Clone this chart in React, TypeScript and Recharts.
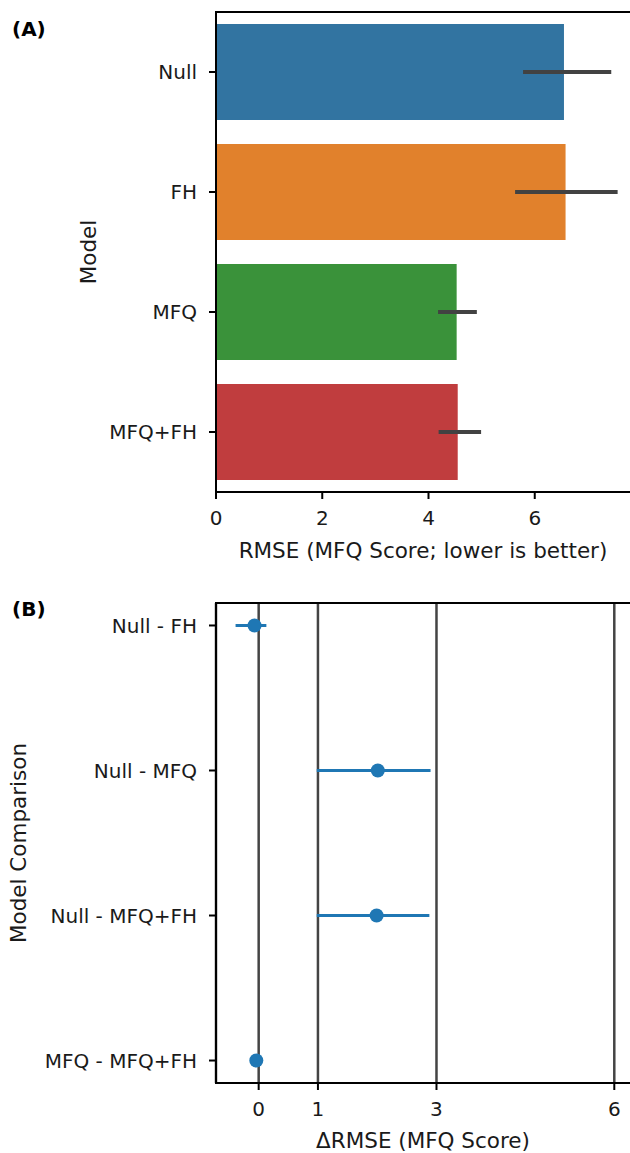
import { BarChart, Bar, XAxis, YAxis, ErrorBar, Cell, ScatterChart, Scatter, CartesianGrid, ReferenceArea } from "recharts";

const models = ["Null", "FH", "MFQ", "MFQ+FH"];
const rmse = [6.55, 6.58, 4.53, 4.55];
const rmseLow = [5.78, 5.63, 4.18, 4.19];
const rmseHigh = [7.44, 7.56, 4.91, 4.99];
const barColors = ["#3274a1", "#e1812c", "#3a923a", "#c03d3e"];
const rmseTicks = [0, 2, 4, 6];

const comparisons = ["Null - FH", "Null - MFQ", "Null - MFQ+FH", "MFQ - MFQ+FH"];
const delta = [-0.07, 2.01, 1.99, -0.04];
const deltaLow = [-0.39, 0.98, 0.98, -0.06];
const deltaHigh = [0.13, 2.9, 2.88, -0.02];
const deltaTicks = [0, 1, 3, 6];

const font = "'DejaVu Sans', sans-serif";
const tickStyle = { fontSize: 20, fill: "#1a1a1a", fontFamily: font };
const axisLine = { stroke: "#000", strokeWidth: 2 };
const tickLine = { stroke: "#000", strokeWidth: 2 };

const barData = models.map((m, i) => ({
  name: m,
  rmse: rmse[i],
  err: [rmse[i] - rmseLow[i], rmseHigh[i] - rmse[i]],
}));

const pointData = comparisons.map((c, i) => ({
  idx: i,
  delta: delta[i],
  err: [delta[i] - deltaLow[i], deltaHigh[i] - delta[i]],
}));

function yLabel(text: string, dx: number) {
  return (props: any) => {
    const vb = props.viewBox;
    const cx = vb.x + dx;
    const cy = vb.y + vb.height / 2;
    return (
      <text x={cx} y={cy} transform={`rotate(-90, ${cx}, ${cy})`} textAnchor="middle" dominantBaseline="central"
        style={{ fontSize: 21.5, fontFamily: font, fill: "#1a1a1a" }}>
        {text}
      </text>
    );
  };
}

function xLabel(text: string, dy: number) {
  return (props: any) => {
    const vb = props.viewBox;
    return (
      <text x={423} y={vb.y + dy} textAnchor="middle" style={{ fontSize: 21.5, fontFamily: font, fill: "#1a1a1a" }}>
        {text}
      </text>
    );
  };
}

export default function App() {
  return (
    <div style={{ position: "absolute", left: 0, top: 0, width: 630, height: 1153, overflow: "hidden", background: "#fff" }}>
      <div style={{ position: "absolute", left: 12, top: 17, fontFamily: font, fontWeight: "bold", fontSize: 20 }}>(A)</div>
      <div style={{ position: "absolute", left: 12, top: 597, fontFamily: font, fontWeight: "bold", fontSize: 20 }}>(B)</div>

      <div style={{ position: "absolute", left: 0, top: 0 }}>
        <BarChart width={660} height={580} data={barData} layout="vertical" barCategoryGap="10%"
          margin={{ top: 12, right: 19, left: 0, bottom: 20 }}>
          <XAxis type="number" domain={[0, 8]} ticks={rmseTicks} tick={tickStyle} axisLine={axisLine} tickLine={tickLine}
            tickSize={7} tickMargin={12} height={68} label={xLabel("RMSE (MFQ Score; lower is better)", 66)} />
          <YAxis type="category" dataKey="name" width={216} tick={tickStyle} axisLine={axisLine} tickLine={tickLine}
            tickSize={7} tickMargin={12} label={yLabel("Model", 88)} />
          <ReferenceArea x1={0} x2={8} fill="none" stroke="#000" strokeWidth={2} fillOpacity={0} />
          <Bar dataKey="rmse" isAnimationActive={false}>
            {barData.map((d, i) => (
              <Cell key={d.name} fill={barColors[i]} />
            ))}
            <ErrorBar dataKey="err" direction="x" width={0} stroke="#424242" strokeWidth={4} />
          </Bar>
        </BarChart>
      </div>

      <div style={{ position: "absolute", left: 0, top: 580 }}>
        <ScatterChart width={660} height={573} margin={{ top: 23, right: 22, left: 0, bottom: 2 }}>
          <CartesianGrid horizontal={false} stroke="#444" strokeWidth={2.5} strokeOpacity={1} />
          <ReferenceArea x1={-0.72} x2={6.4} fill="none" stroke="#000" strokeWidth={2} fillOpacity={0} />
          <XAxis type="number" dataKey="delta" domain={[-0.72, 6.4]} ticks={deltaTicks} tick={tickStyle} axisLine={axisLine}
            tickLine={tickLine} tickSize={7} tickMargin={12} height={68} allowDataOverflow
            label={xLabel("\u0394RMSE (MFQ Score)", 65)} />
          <YAxis type="number" dataKey="idx" reversed domain={[-0.155, 3.155]} ticks={[0, 1, 2, 3]} width={216}
            tickFormatter={(v: number) => comparisons[v]} tick={tickStyle} axisLine={axisLine} tickLine={tickLine}
            tickSize={7} tickMargin={12} allowDataOverflow label={yLabel("Model Comparison", 18)} />
          <Scatter data={pointData} fill="#1f77b4" isAnimationActive={false}
            shape={(p: any) => <circle cx={p.cx} cy={p.cy} r={7} fill="#1f77b4" />}>
            <ErrorBar dataKey="err" direction="x" width={0} stroke="#1f77b4" strokeWidth={3} />
          </Scatter>
        </ScatterChart>
      </div>
    </div>
  );
}
